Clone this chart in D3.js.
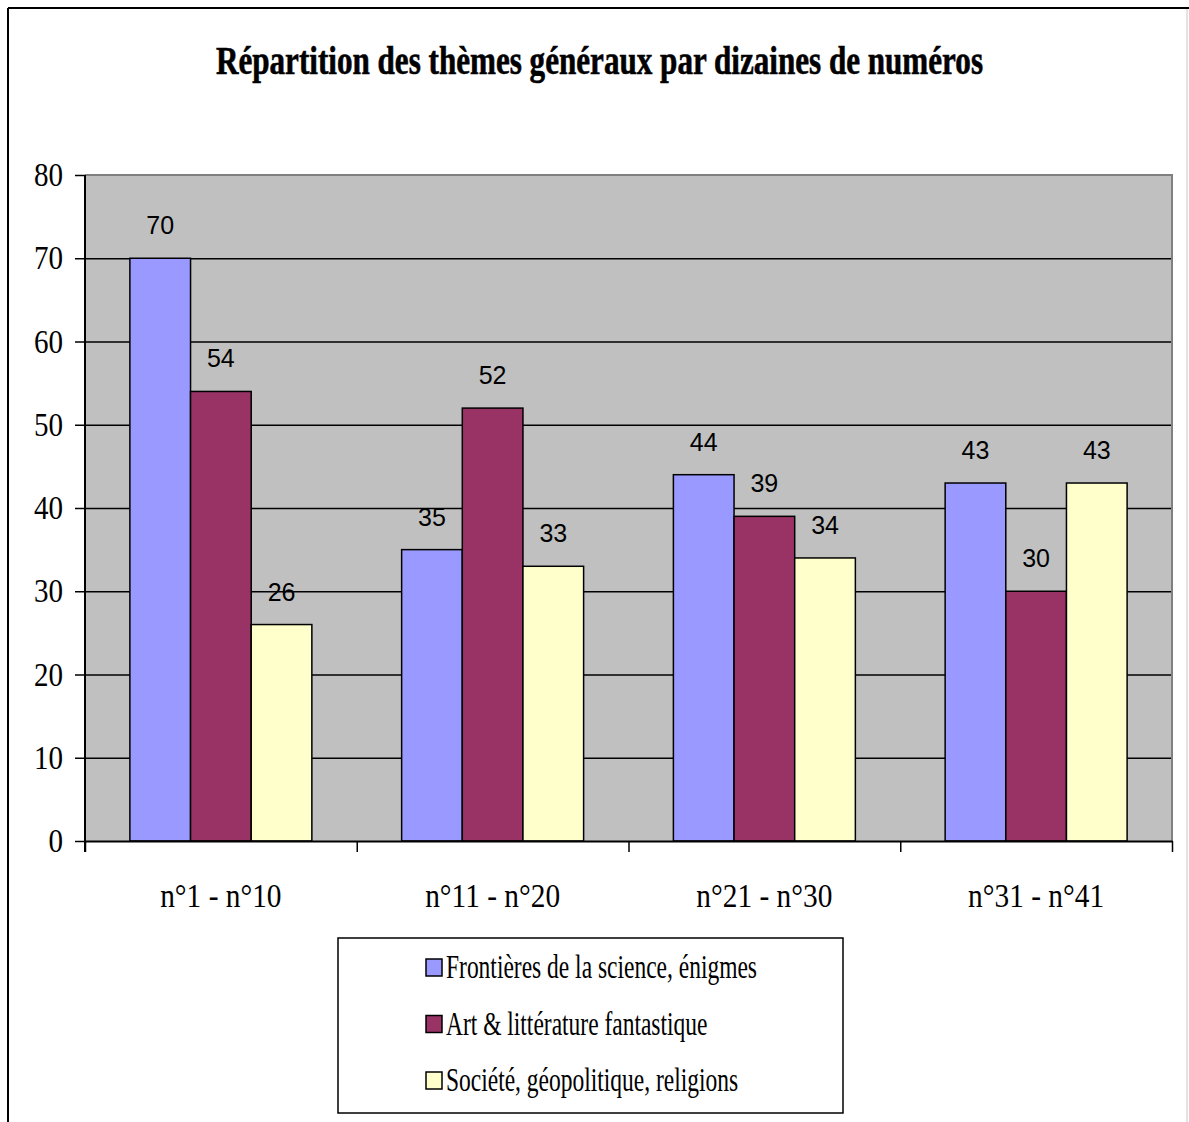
<!DOCTYPE html>
<html>
<head>
<meta charset="utf-8">
<script src="https://cdn.jsdelivr.net/npm/d3@7"></script>
<style>
  body { margin: 0; background: #fff; }
  svg { display: block; }
</style>
</head>
<body>
<div id="chart"></div>
<script>
// data
const title = "Répartition des thèmes généraux par dizaines de numéros";
const categories = ["n°1 - n°10", "n°11 - n°20", "n°21 - n°30", "n°31 - n°41"];
const seriesNames = [
  "Frontières de la science, énigmes",
  "Art & littérature fantastique",
  "Société, géopolitique, religions"
];
const frontieres = [70, 35, 44, 43];
const art = [54, 52, 39, 30];
const societe = [26, 33, 34, 43];
const yTicks = [0, 10, 20, 30, 40, 50, 60, 70, 80];
const colors = ["#9999FF", "#993366", "#FFFFCC"];

const W = 1189, H = 1122;
const plot = {left: 85, top: 175, right: 1172, bottom: 841};
const serif = "'Liberation Serif', 'Times New Roman', serif";
const sans = "'Liberation Sans', Arial, sans-serif";

const svg = d3.select("#chart").append("svg")
  .attr("width", W).attr("height", H);

// outer frame
svg.append("line").attr("x1", 8).attr("y1", 8).attr("x2", W).attr("y2", 8)
  .attr("stroke", "#000").attr("stroke-width", 2);
svg.append("line").attr("x1", 8).attr("y1", 8).attr("x2", 8).attr("y2", H)
  .attr("stroke", "#000").attr("stroke-width", 2);
svg.append("line").attr("x1", 1187).attr("y1", 9).attr("x2", 1187).attr("y2", H)
  .attr("stroke", "#c8c8c8").attr("stroke-width", 1);

// condense a text node to a fraction of its natural width
function condense(sel, f) {
  sel.each(function() {
    const w = this.getComputedTextLength();
    d3.select(this).attr("textLength", w * f).attr("lengthAdjust", "spacingAndGlyphs");
  });
}

// title
const t = svg.append("text")
  .attr("x", 599.5).attr("y", 74)
  .attr("text-anchor", "middle")
  .style("font-family", serif).style("font-weight", "bold").style("font-size", "39px")
  .attr("stroke", "#000").attr("stroke-width", 0.6)
  .text(title);
t.attr("textLength", 767).attr("lengthAdjust", "spacingAndGlyphs");

const y = d3.scaleLinear().domain([0, 80]).range([plot.bottom, plot.top]);
const x0 = d3.scaleBand().domain(categories).range([plot.left, plot.right]).paddingInner(0);
const x1 = d3.scaleBand().domain(d3.range(seriesNames.length))
  .range([0, x0.bandwidth()]).paddingInner(0).paddingOuter(0.74);
const xEdge = d3.scaleLinear().domain([0, categories.length]).range([plot.left, plot.right]);

// plot background
svg.append("rect")
  .attr("x", plot.left).attr("y", plot.top)
  .attr("width", plot.right - plot.left).attr("height", plot.bottom - plot.top)
  .attr("fill", "#C0C0C0");

// gridlines
const grid = svg.append("g")
  .attr("transform", `translate(${plot.left},0)`)
  .call(d3.axisLeft(y).tickValues(yTicks.filter(d => d > 0 && d < 80))
    .tickSize(-(plot.right - plot.left)).tickFormat(""));
grid.select(".domain").remove();
grid.selectAll("line").attr("stroke", "#000").attr("stroke-width", 1.5);

// gray top and right border of plot area
svg.append("path")
  .attr("d", `M${plot.left},${plot.top}H${plot.right}V${plot.bottom}`)
  .attr("fill", "none").attr("stroke", "#808080").attr("stroke-width", 2);

// bars
const series = [frontieres, art, societe];
const rows = categories.map((c, i) => ({cat: c, vals: series.map(s => s[i])}));

const groups = svg.append("g").selectAll("g")
  .data(rows).enter().append("g")
  .attr("transform", d => `translate(${x0(d.cat)},0)`);

groups.selectAll("rect")
  .data(d => d.vals.map((v, k) => ({k, v})))
  .enter().append("rect")
  .attr("x", d => x1(d.k))
  .attr("y", d => y(d.v))
  .attr("width", x1.bandwidth())
  .attr("height", d => y(0) - y(d.v))
  .attr("fill", d => colors[d.k])
  .attr("stroke", "#000").attr("stroke-width", 1.5);

groups.selectAll("text")
  .data(d => d.vals.map((v, k) => ({k, v})))
  .enter().append("text")
  .attr("x", d => x1(d.k) + x1.bandwidth() / 2)
  .attr("y", d => y(d.v) - 24)
  .attr("text-anchor", "middle")
  .style("font-family", sans).style("font-size", "25px").attr("fill", "#000")
  .text(d => d.v);

// y axis
const yAx = svg.append("g")
  .attr("transform", `translate(${plot.left},0)`)
  .call(d3.axisLeft(y).tickValues(yTicks).tickSize(10).tickSizeOuter(0).tickPadding(12));
yAx.select(".domain").remove();
yAx.append("line").attr("x1", 0).attr("x2", 0).attr("y1", plot.top).attr("y2", plot.bottom + 11)
  .attr("stroke", "#000").attr("stroke-width", 2);
yAx.selectAll(".tick line").attr("stroke", "#000").attr("stroke-width", 1.5);
yAx.selectAll("text")
  .style("font-family", serif).style("font-size", "33px").attr("fill", "#000")
  .call(condense, 0.88);

// x axis (ticks at category boundaries)
const xAx = svg.append("g")
  .attr("transform", `translate(0,${plot.bottom})`)
  .call(d3.axisBottom(xEdge).tickValues(d3.range(categories.length + 1))
    .tickSize(11).tickSizeOuter(0).tickFormat(""));
xAx.select(".domain").attr("stroke", "#000").attr("stroke-width", 2);
xAx.selectAll(".tick line").attr("stroke", "#000").attr("stroke-width", 1.5);

svg.append("g").selectAll("text")
  .data(categories).enter().append("text")
  .attr("x", d => x0(d) + x0.bandwidth() / 2)
  .attr("y", 907)
  .attr("text-anchor", "middle")
  .style("font-family", serif).style("font-size", "33px").attr("fill", "#000")
  .text(d => d)
  .call(condense, 0.89);

// legend
const lg = svg.append("g");
lg.append("rect")
  .attr("x", 338).attr("y", 938).attr("width", 505).attr("height", 175)
  .attr("fill", "#fff").attr("stroke", "#000").attr("stroke-width", 1.5);

const ly = d3.scalePoint().domain(d3.range(seriesNames.length)).range([968, 1081]);
const items = lg.selectAll("g.item")
  .data(seriesNames).enter().append("g")
  .attr("class", "item")
  .attr("transform", (d, i) => `translate(426,${ly(i)})`);
items.append("rect")
  .attr("x", 0).attr("y", -9).attr("width", 16).attr("height", 17)
  .attr("fill", (d, i) => colors[i])
  .attr("stroke", "#000").attr("stroke-width", 1.5);
const ltext = items.append("text")
  .attr("x", 20).attr("y", 10)
  .style("font-family", serif).style("font-size", "33px").attr("fill", "#000")
  .text(d => d);
// fit condensing factor on the first item width seen in the picture
const f = 311 / ltext.node().getComputedTextLength();
ltext.call(condense, f);
</script>
</body>
</html>
